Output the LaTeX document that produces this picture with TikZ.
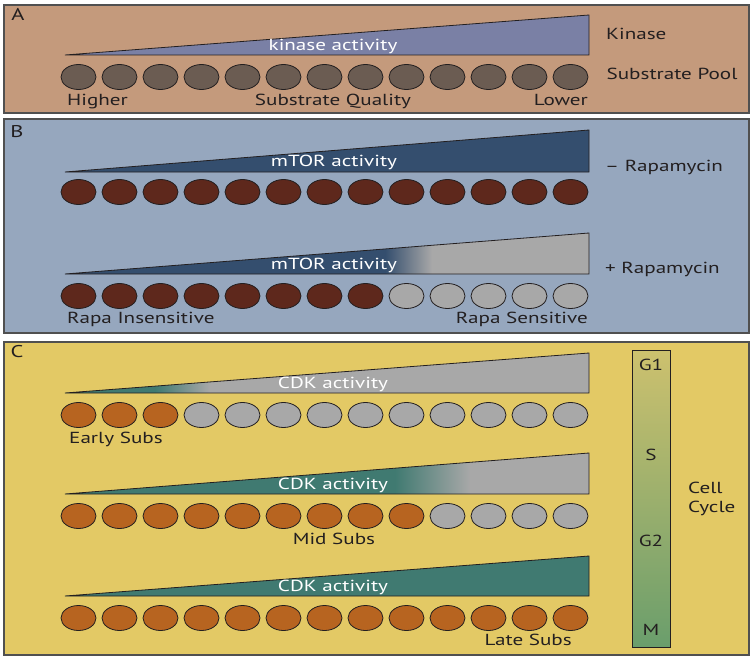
\documentclass[tikz,border=0pt]{standalone}
\usepackage{fontspec}
\setmainfont{PT Sans}[FakeStretch=1.32]
\usetikzlibrary{positioning,shapes.geometric}

\definecolor{ink}{RGB}{35,31,32}
\definecolor{frame}{RGB}{80,80,80}
\definecolor{panelA}{RGB}{196,154,124}
\definecolor{kinase}{RGB}{122,128,165}
\definecolor{subA}{RGB}{107,92,82}
\definecolor{panelB}{RGB}{150,167,190}
\definecolor{mtor}{RGB}{52,78,110}
\definecolor{subB}{RGB}{94,40,28}
\definecolor{inact}{RGB}{168,168,168}
\definecolor{panelC}{RGB}{227,201,101}
\definecolor{cdk}{RGB}{64,122,113}
\definecolor{subC}{RGB}{183,100,32}
\definecolor{cyctop}{RGB}{205,193,110}
\definecolor{cycbot}{RGB}{106,158,108}

\begin{document}
\begin{tikzpicture}[
      x=1pt, y=-1pt,
      every node/.style={font=\fontsize{16}{19}\selectfont, text=ink, inner sep=0pt},
      panel/.style={draw=frame, line width=1.2pt},
      sub/.style={draw=ink, ellipse, minimum width=35pt, minimum height=25pt, line width=0.8pt},
      ramp/.style={draw=ink, line width=0.8pt},
      tag/.style={font=\fontsize{17}{20}\selectfont, anchor=mid},
      inramp/.style={text=white, anchor=mid},
    ]
    \useasboundingbox (0,0) rectangle (754,661);

    % panels
    \filldraw[panel, fill=panelA] (4,5) rectangle (749,113);
    \filldraw[panel, fill=panelB] (4,119) rectangle (749,333);
    \filldraw[panel, fill=panelC] (4,342) rectangle (749,655);
    \node[tag] (tA) at (18,18) {A};
    \node[tag] (tB) at (17,135) {B};
    \node[tag] (tC) at (17,355) {C};

    % A: kinase and substrate pool
    \filldraw[ramp, fill=kinase] (65,55) -- (589,15) -- (589,55) -- cycle;
    \node[inramp] (kact) at (333,48) {kinase activity};
    \foreach \i in {1,...,13}
      \node[sub, fill=subA] (a\i) at ({78.5+41*(\i-1)},77) {};
    \node[anchor=mid west] (kin) at (606,37) {Kinase};
    \node[right=18pt of a13, anchor=mid west] (pool) {Substrate Pool};
    \node[anchor=mid west] (hi) at (67,103) {Higher};
    \node[anchor=mid] (qual) at (333,103) {Substrate Quality};
    \node[anchor=mid east] (lo) at (588,103) {Lower};

    % B: mTOR without rapamycin
    \filldraw[ramp, fill=mtor] (65,172) -- (589,130) -- (589,172) -- cycle;
    \node[inramp] (mact1) at (334,164) {mTOR activity};
    \foreach \i in {1,...,13}
      \node[sub, fill=subB] (b\i) at ({78.5+41*(\i-1)},192) {};
    \node[anchor=mid west] (minus) at (605,169) {– Rapamycin};

    % B: mTOR with rapamycin
    \begin{scope}
      \clip (65,274) -- (589,233) -- (589,274) -- cycle;
      \fill[mtor] (60,228) rectangle (385,276);
      \shade[left color=mtor, right color=inact] (385,228) rectangle (432,276);
      \fill[inact] (432,228) rectangle (592,276);
    \end{scope}
    \draw[ramp] (65,274) -- (589,233) -- (589,274) -- cycle;
    \node[inramp] (mact2) at (334,267) {mTOR activity};
    \foreach \i in {1,...,8}
      \node[sub, fill=subB] (r\i) at ({78.5+41*(\i-1)},296) {};
    \foreach \i in {9,...,13}
      \node[sub, fill=inact] (r\i) at ({78.5+41*(\i-1)},296) {};
    \node[anchor=mid west] (plus) at (605,271) {+ Rapamycin};
    \node[anchor=mid west] (insens) at (67,321) {Rapa Insensitive};
    \node[anchor=mid east] (sens) at (588,321) {Rapa Sensitive};

    % C: early substrates
    \begin{scope}
      \clip (65,393) -- (589,353) -- (589,393) -- cycle;
      \fill[cdk] (60,350) rectangle (155,395);
      \shade[left color=cdk, right color=inact] (155,350) rectangle (210,395);
      \fill[inact] (210,350) rectangle (592,395);
    \end{scope}
    \draw[ramp] (65,393) -- (589,353) -- (589,393) -- cycle;
    \node[inramp] (cact1) at (333,386) {CDK activity};
    \foreach \i in {1,...,3}
      \node[sub, fill=subC] (e\i) at ({78.5+41*(\i-1)},415) {};
    \foreach \i in {4,...,13}
      \node[sub, fill=inact] (e\i) at ({78.5+41*(\i-1)},415) {};
    \node[anchor=mid west] (early) at (69,441) {Early Subs};

    % C: mid substrates
    \begin{scope}
      \clip (65,494) -- (589,453) -- (589,494) -- cycle;
      \fill[cdk] (60,450) rectangle (395,496);
      \shade[left color=cdk, right color=inact] (395,450) rectangle (470,496);
      \fill[inact] (470,450) rectangle (592,496);
    \end{scope}
    \draw[ramp] (65,494) -- (589,453) -- (589,494) -- cycle;
    \node[inramp] (cact2) at (333,487) {CDK activity};
    \foreach \i in {1,...,9}
      \node[sub, fill=subC] (m\i) at ({78.5+41*(\i-1)},516) {};
    \foreach \i in {10,...,13}
      \node[sub, fill=inact] (m\i) at ({78.5+41*(\i-1)},516) {};
    \node[anchor=mid] (mid) at (334,542) {Mid Subs};

    % C: late substrates
    \filldraw[ramp, fill=cdk] (65,596) -- (589,556) -- (589,596) -- cycle;
    \node[inramp] (cact3) at (333,589) {CDK activity};
    \foreach \i in {1,...,13}
      \node[sub, fill=subC] (l\i) at ({78.5+41*(\i-1)},618) {};
    \node[anchor=mid east] (late) at (572,643) {Late Subs};

    % cell cycle bar
    \shade[top color=cyctop, bottom color=cycbot] (632,350) rectangle (670,647);
    \draw[ramp] (632,350) rectangle (670,647);
    \node[anchor=mid] (g1) at (651,368) {G1};
    \node[anchor=mid] (s) at (651,458) {S};
    \node[anchor=mid] (g2) at (651,544) {G2};
    \node[anchor=mid] (mph) at (651,633) {M};
    \node[anchor=west, align=left] (cyc) at (688,499) {Cell\\Cycle};
  \end{tikzpicture}
\end{document}
